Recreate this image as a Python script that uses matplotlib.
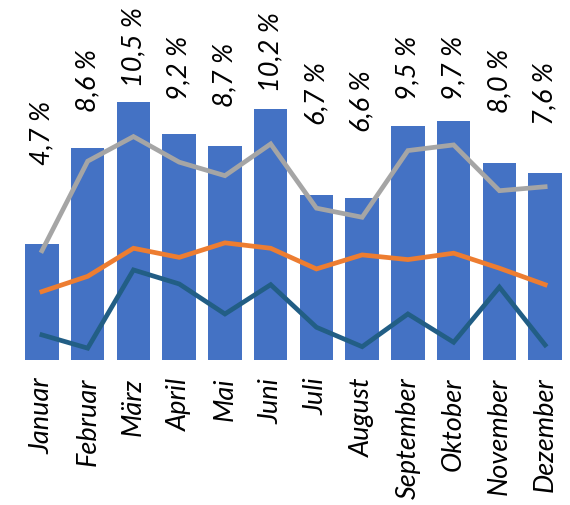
import matplotlib.pyplot as plt

# Monthly data
months = ["Januar", "Februar", "März", "April", "Mai", "Juni",
          "Juli", "August", "September", "Oktober", "November", "Dezember"]
total = [4.7, 8.6, 10.5, 9.2, 8.7, 10.2, 6.7, 6.6, 9.5, 9.7, 8.0, 7.6]
gray_line = [4.44, 8.08, 9.08, 8.04, 7.49, 8.78, 6.17, 5.80, 8.51, 8.74, 6.88, 7.04]
orange_line = [2.78, 3.40, 4.54, 4.17, 4.76, 4.54, 3.70, 4.27, 4.08, 4.34, 3.73, 3.06]
teal_line = [1.02, 0.48, 3.66, 3.09, 1.87, 3.06, 1.33, 0.54, 1.87, 0.72, 2.96, 0.61]

# height where each value label starts (layout, not data)
label_pos = [7.97, 10.12, 11.14, 10.61, 10.33, 10.93, 9.59, 9.31, 10.61, 10.61, 10.08, 9.59]

plt.rcParams['font.family'] = ['Lato', 'DejaVu Sans']

fig = plt.figure(figsize=(5.7, 5.06), dpi=100)
ax = fig.add_axes([0.0335, 0.2866, 0.963, 0.7134])

x = range(len(months))
ax.bar(x, total, width=0.73, color="#4472C4", zorder=1)
ax.plot(x, gray_line, color="#A5A5A5", lw=3.4, zorder=2, solid_joinstyle="miter")
ax.plot(x, orange_line, color="#ED7D31", lw=3.4, zorder=2, solid_joinstyle="miter")
ax.plot(x, teal_line, color="#225E85", lw=3.4, zorder=2, solid_joinstyle="miter")

for i, v in enumerate(total):
    ax.text(i, label_pos[i], f"{v:.1f} %".replace(".", ","), rotation=90,
            ha="center", va="bottom", fontsize=19.5, style="italic")

ax.set_xlim(-0.5, len(months) - 0.5)
ax.set_ylim(0, 14.67)
ax.set_xticks(list(x))
ax.set_xticklabels(months, rotation=90, fontsize=19.5, style="italic")
ax.tick_params(axis="x", length=0, pad=12)
ax.set_yticks([])
for s in ax.spines.values():
    s.set_visible(False)

fig.savefig("out.png", dpi=100)
